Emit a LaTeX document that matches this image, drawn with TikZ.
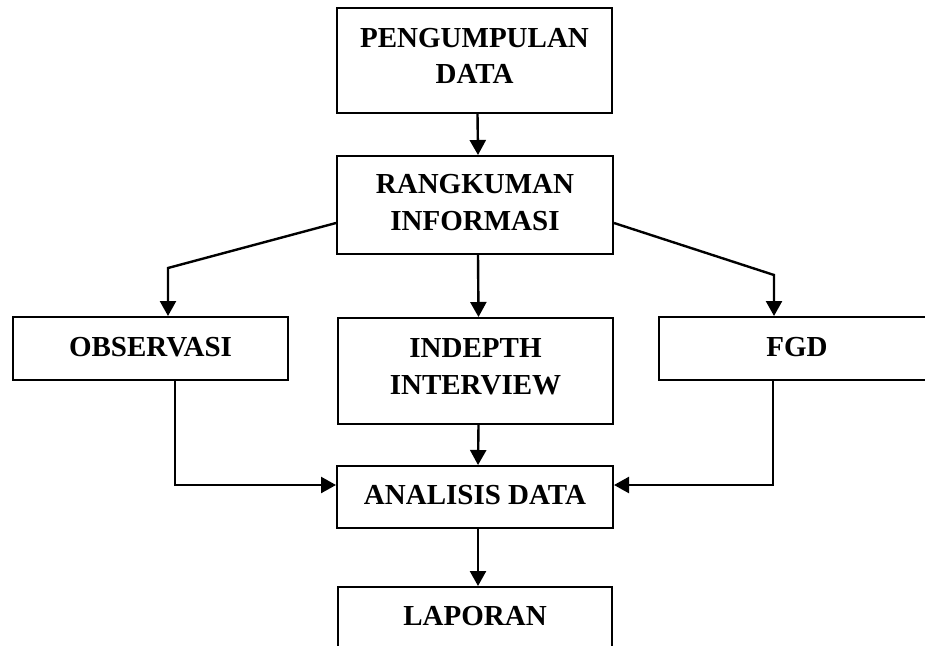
\documentclass[tikz,border=0pt]{standalone}
\usepackage{fontspec}
\setmainfont{Liberation Serif}
\usetikzlibrary{arrows.meta}
\begin{document}
\begin{tikzpicture}[x=1pt,y=-1pt,
  box/.style={draw, line width=2pt, inner sep=0pt},
  txt/.style={inner sep=0pt, align=center,
    font=\fontsize{29}{36.5}\selectfont\bfseries},
  conn/.style={line width=2.4pt, -{Triangle[length=15pt,width=16pt]}}]
\clip (0,0) rectangle (925,645);
\fill[white] (0,0) rectangle (925,645);
\node[box, minimum width=275pt, minimum height=105pt] (pd) at (474.5,60.5) {};
\node[box, minimum width=276pt, minimum height=98pt] (ri) at (475,205) {};
\node[box, minimum width=275pt, minimum height=63pt] (ob) at (150.5,348.5) {};
\node[box, minimum width=275pt, minimum height=106pt] (in) at (475.5,371) {};
\node[box, minimum width=276pt, minimum height=63pt] (fg) at (797,348.5) {};
\node[box, minimum width=276pt, minimum height=62pt] (an) at (475,497) {};
\node[box, minimum width=274pt, minimum height=62pt] (lp) at (475,618) {};
\node[txt] (tpd) at ([yshift=4.5pt]pd.center) {PENGUMPULAN\\DATA};
\node[txt] (tri) at ([yshift=2.5pt]ri.center) {RANGKUMAN\\INFORMASI};
\node[txt] (tob) at ([yshift=1pt]ob.center) {OBSERVASI};
\node[txt] (tin) at ([yshift=4.5pt]in.center) {INDEPTH\\INTERVIEW};
\node[txt] (tfg) at ([yshift=1pt]fg.center) {FGD};
\node[txt] (tan) at ([yshift=2pt]an.center) {ANALISIS DATA};
\node[txt] (tlp) at ([yshift=2pt]lp.center) {LAPORAN};
\coordinate (bl) at (168,268);
\coordinate (br) at (774,275);
\draw[conn] ([xshift=3pt]pd.south) -- ([xshift=3pt]ri.north);
\draw[conn] ([xshift=3pt]ri.south) -- ([xshift=3pt]in.north);
\draw[conn] ([yshift=-18pt]ri.west) -- (bl) -- (bl |- ob.north);
\draw[conn] ([yshift=-18pt]ri.east) -- (br) -- (br |- fg.north);
\draw[conn] ([xshift=3pt]in.south) -- ([xshift=3pt]an.north);
\draw[conn] ([xshift=3pt]an.south) -- ([xshift=3pt]lp.north);
\coordinate (ol) at (175,485);
\coordinate (fr) at (773,485);
\draw[conn] (ob.south -| ol) -- (ol) -- (ol -| an.west);
\draw[conn] (fg.south -| fr) -- (fr) -- (fr -| an.east);
\end{tikzpicture}
\end{document}
